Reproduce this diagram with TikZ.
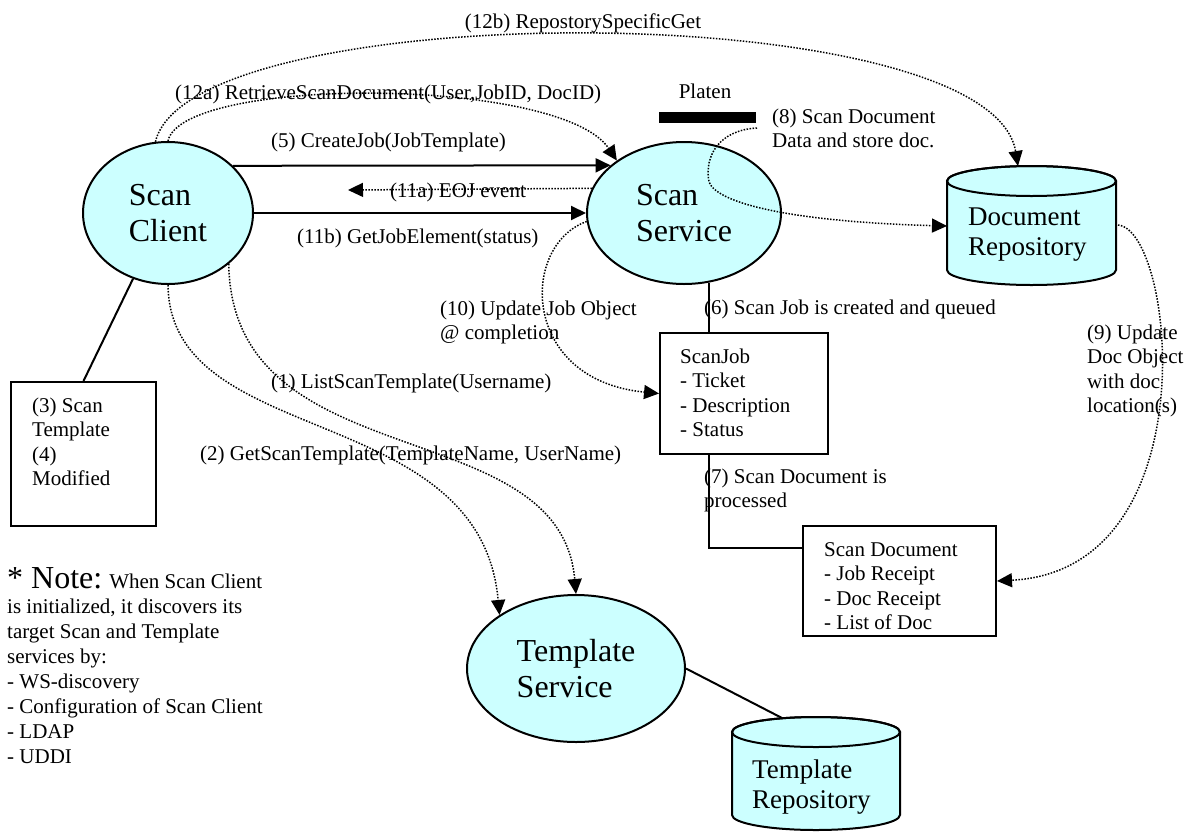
\documentclass[tikz,border=0pt]{standalone}
\usepackage{fontspec}
\setmainfont{Liberation Serif}
\newfontfamily\timesface{Liberation Serif}
\usetikzlibrary{shapes.geometric, arrows.meta, calc}
\definecolor{cyanfill}{RGB}{204,255,255}

% database drum: centre x, top-centre y, bottom-centre y, x radius, y radius
\newcommand{\drumshape}[5]{%
  \path[fill=cyanfill, draw, line width=2pt]
    (#1-#4,#2) -- (#1-#4,#3)
    arc[start angle=180, end angle=0, x radius=#4, y radius=#5]
    -- (#1+#4,#2)
    arc[start angle=0, end angle=-180, x radius=#4, y radius=#5] -- cycle;
  \draw[line width=2pt] (#1,#2) ellipse[x radius=#4, y radius=#5];
}

\begin{document}
\begin{tikzpicture}[x=1pt, y=-1pt,
  lbl/.style={font=\timesface\fontsize{21}{24.5}\selectfont, inner sep=0pt},
  mlbl/.style={lbl, align=left, anchor=north west},
  boxtext/.style={mlbl},
  dbtext/.style={font=\timesface\fontsize{27}{30}\selectfont, inner sep=0pt, align=left, anchor=north west},
  bubble/.style={ellipse, draw, line width=2pt, fill=cyanfill, align=left,
                 font=\timesface\fontsize{32}{36}\selectfont, inner sep=0pt},
  panel/.style={draw, line width=2pt, inner sep=0pt},
  solidline/.style={line width=2pt},
  dotline/.style={line width=1.5pt, dash pattern=on 1.5pt off 1.5pt},
  arr/.style={-{Triangle[length=15pt, width=14pt]}}
]
\useasboundingbox (0,0) rectangle (1196,833);

% services
\node[bubble, minimum width=170pt, minimum height=142pt] (client) at (168,213) {Scan\\Client};
\node[bubble, minimum width=194pt, minimum height=142pt] (service) at (684,213) {Scan\\Service};
\node[bubble, minimum width=218pt, minimum height=147pt] (tmplsvc) at (576,668.5) {Template\\Service};

% repositories
\drumshape{1031.5}{181}{270}{84.5}{15}
\node[dbtext] (docrepo) at (968,204) {\strut Document\\Repository};
\drumshape{816}{732}{815}{84}{15}
\node[dbtext] (tmplrepo) at (752,757) {\strut Template\\Repository};

% data objects
\node[panel, minimum width=145pt, minimum height=144pt] (tmplbox) at (83.5,454) {};
\node[boxtext] (tmplboxtext) at (32,395) {\strut (3) Scan\\Template\\(4)\\Modified};
\node[panel, minimum width=168pt, minimum height=121pt] (scanjob) at (744,393.5) {};
\node[boxtext] (scanjobtext) at (680,346) {\strut ScanJob\\- Ticket\\- Description\\- Status};
\node[panel, minimum width=193pt, minimum height=110pt] (scandoc) at (899.5,581) {};
\node[boxtext] (scandoctext) at (824,539) {\strut Scan Document\\- Job Receipt\\- Doc Receipt\\- List of Doc};

% platen
\node[fill=black, minimum width=97pt, minimum height=11pt, inner sep=0pt] (platen) at (707.5,117.5) {};
\node[lbl, anchor=base] (platenlbl) at (705,98) {Platen};

% message labels
\node[lbl, anchor=base] (l12b) at (583,28) {(12b) RepostorySpecificGet};
\node[lbl, anchor=base west] (l12a) at (175,99) {(12a) RetrieveScanDocument(User,JobID, DocID)};
\node[mlbl] (l8) at (772,106) {\strut (8) Scan Document\\Data and store doc.};
\node[lbl, anchor=base west] (l5) at (271,147) {(5) CreateJob(JobTemplate)};
\node[lbl, anchor=base west] (l11a) at (390,197) {(11a) EOJ event};
\node[lbl, anchor=base west] (l11b) at (297,243) {(11b) GetJobElement(status)};
\node[mlbl] (l10) at (440,298) {\strut (10) Update Job Object\\@ completion};
\node[lbl, anchor=base west] (l6) at (704,314) {(6) Scan Job is created and queued};
\node[lbl, anchor=base west] (l1) at (271,388) {(1) ListScanTemplate(Username)};
\node[lbl, anchor=base west] (l2) at (200,460) {(2) GetScanTemplate(TemplateName, UserName)};
\node[mlbl] (l9) at (1087,322) {\strut (9) Update\\Doc Object\\with doc\\location(s)};
\node[mlbl] (l7) at (704,466) {\strut (7) Scan Document is\\processed};

% discovery note
\node[font=\timesface\fontsize{21}{25}\selectfont, align=left, anchor=north west, inner sep=0pt] (note) at (7,566)
  {\rule{0pt}{22pt}{\fontsize{32}{36}\selectfont * Note:} When Scan Client\\is initialized, it discovers its\\target Scan and Template\\services by:\\- WS-discovery\\- Configuration of Scan Client\\- LDAP\\- UDDI};

% solid connectors
\draw[solidline, arr] (client.36.4) -- (service.147.6);
\draw[solidline, arr] (client.0) -- (service.180);
\draw[solidline] (client.242) -- (tmplbox.north);
\draw[solidline] (service.290) -- (service.290 |- scanjob.north);
\coordinate (sdin) at ($(scandoc.north west)+(0,23)$);
\draw[solidline] (service.290 |- scanjob.south) |- (sdin);
\coordinate (tmplrepotop) at (782,718);
\draw[solidline] (tmplsvc.east) -- (tmplrepotop);

% dotted messages
\coordinate (eojtip) at (348,190);
\draw[dotline, arr] (service.165.9) -- (eojtip);
\coordinate (docrepotop) at (1018,166);
\draw[dotline, arr] (client.100) .. controls (190,-5) and (990,-5) .. (docrepotop);
\draw[dotline, arr] (client.90) .. controls (182,76) and (560,76) .. (service.142.5);
\coordinate (platenout) at (757,128);
\coordinate (docrepoin) at (947,226);
\draw[dotline, arr] (platenout) .. controls (720,130) and (704,155) .. (709,182)
  .. controls (718,205) and (800,222) .. (docrepoin);
\coordinate (docrepoout) at (1118,225);
\draw[dotline, arr] (docrepoout) .. controls (1175,230) and (1210,570) .. (scandoc.east);
\draw[dotline, arr] (service.185.4) .. controls (520,245) and (520,380) .. (scanjob.west);
\draw[dotline, arr] (client.270) .. controls (170,450) and (480,400) .. (tmplsvc.145);
\draw[dotline, arr] (client.320) .. controls (232,480) and (560,410) .. (tmplsvc.90);
\end{tikzpicture}
\end{document}
